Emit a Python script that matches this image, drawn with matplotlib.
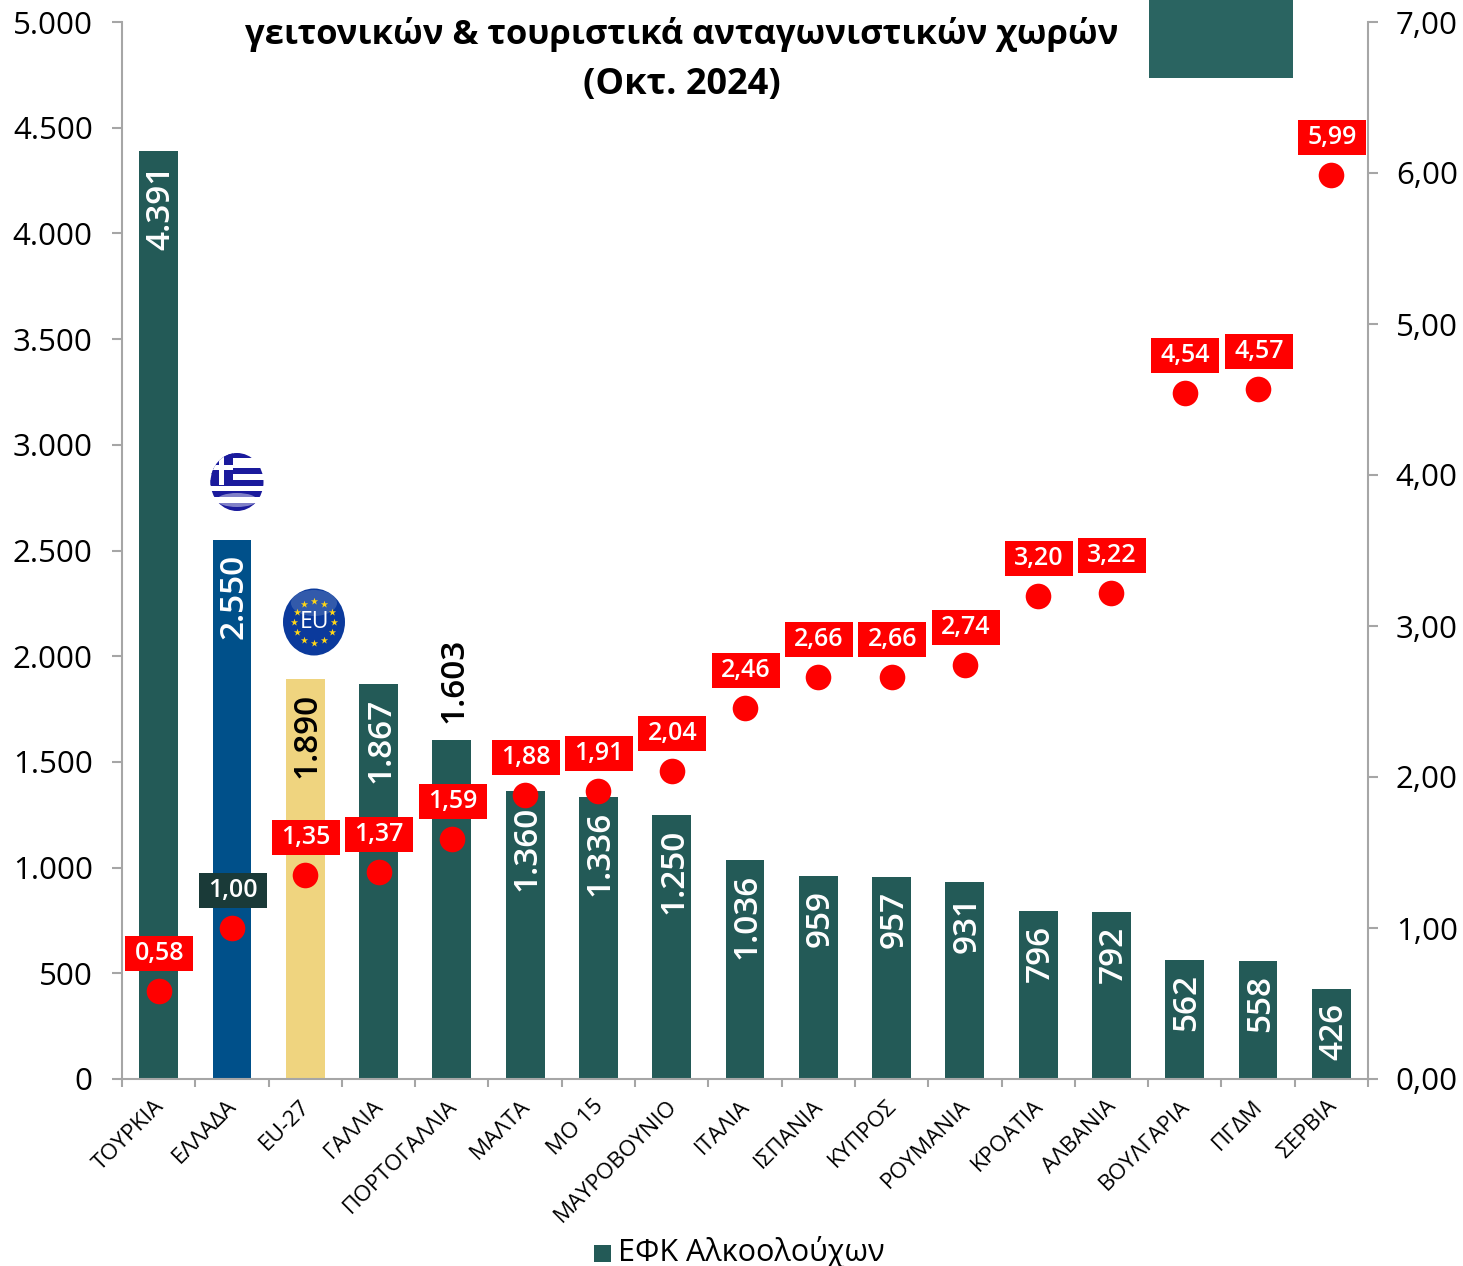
import matplotlib
matplotlib.use("Agg")
import matplotlib.pyplot as plt
from matplotlib.patches import Ellipse, Rectangle
from matplotlib.path import Path
from matplotlib.transforms import ScaledTranslation

plt.rcParams['font.family'] = ['Open Sans', 'DejaVu Sans']

categories = ["ΤΟΥΡΚΙΑ", "ΕΛΛΑΔΑ", "EU-27", "ΓΑΛΛΙΑ", "ΠΟΡΤΟΓΑΛΛΙΑ", "ΜΑΛΤΑ", "ΜΟ 15", "ΜΑΥΡΟΒΟΥΝΙΟ", "ΙΤΑΛΙΑ",
              "ΙΣΠΑΝΙΑ", "ΚΥΠΡΟΣ", "ΡΟΥΜΑΝΙΑ", "ΚΡΟΑΤΙΑ", "ΑΛΒΑΝΙΑ", "ΒΟΥΛΓΑΡΙΑ", "ΠΓΔΜ", "ΣΕΡΒΙΑ"]
excise = [4391, 2550, 1890, 1867, 1603, 1360, 1336, 1250, 1036, 959, 957, 931, 796, 792, 562, 558, 426]
price = [0.58, 1.00, 1.35, 1.37, 1.59, 1.88, 1.91, 2.04, 2.46, 2.66, 2.66, 2.74, 3.20, 3.22, 4.54, 4.57, 5.99]
left_ticks = [0, 500, 1000, 1500, 2000, 2500, 3000, 3500, 4000, 4500, 5000]
right_ticks = [0, 1, 2, 3, 4, 5, 6, 7]
title_lines = ["γειτονικών & τουριστικά ανταγωνιστικών χωρών", "(Οκτ. 2024)"]
legend_label = "ΕΦΚ Αλκοολούχων"

W, H = 1463, 1266
GREEN, BLUE, SAND, GREY, RED = "#235a57", "#00508a", "#efd47f", "#a6a6a6", "#ff0000"


def label_box(x0, y0, width, height, mutation_size):
    """Fixed-size label background (68 x 35 px), centred on the text."""
    cx, cy = x0 + width / 2, y0 + height / 2
    l, r, b, t = cx - 34, cx + 34, cy - 17.5, cy + 17.5
    return Path([(l, b), (r, b), (r, t), (l, t), (l, b)], closed=True)


fig = plt.figure(figsize=(W / 100, H / 100), dpi=100)
ax = fig.add_axes([122 / W, 1 - 1079 / H, (1368 - 122) / W, (1079 - 22) / H])
x = list(range(len(categories)))
colors = [GREEN] * len(x)
colors[1], colors[2] = BLUE, SAND
ax.bar(x, excise, width=0.53, color=colors, zorder=2)
ax.set_xlim(-0.5, len(x) - 0.5)
ax.set_ylim(0, 5000)
ax.set_yticks(left_ticks)
ax.set_yticklabels([f"{v:,}".replace(",", ".") for v in left_ticks], fontsize=22.5)
ax.set_xticks([i - 0.5 for i in range(len(x) + 1)])
ax.set_xticklabels([])
ax.set_xticks(x, minor=True)
ax.set_xticklabels(categories, minor=True, rotation=45, ha="right", va="top", rotation_mode="anchor", fontsize=16.2)
ax.tick_params(axis="x", which="minor", length=0, pad=12)
ax.tick_params(axis="x", which="major", length=6, width=1.5, color=GREY)
ax.tick_params(axis="y", length=7, width=1.5, color=GREY, pad=14)
shift = ScaledTranslation(-4 / 72, 0, fig.dpi_scale_trans)
for lab in ax.get_xticklabels(minor=True):
    lab.set_transform(lab.get_transform() + shift)
for s in ("top", "right"):
    ax.spines[s].set_visible(False)
for s in ("left", "bottom"):
    ax.spines[s].set_color(GREY)
    ax.spines[s].set_linewidth(1.5)

for i, v in enumerate(excise):
    text = f"{v:,}".replace(",", ".")
    if v == 1603:
        ax.annotate(text, (i, v), xytext=(1.5, 12), textcoords="offset points", rotation=90,
                    ha="center", va="bottom", fontsize=24, fontweight=600, color="black", zorder=3)
    else:
        ax.annotate(text, (i, v), xytext=(1.5, -10), textcoords="offset points", rotation=90,
                    ha="center", va="top", fontsize=24, fontweight=600,
                    color="black" if v == 1890 else "white", zorder=3)

ax2 = ax.twinx()
ax2.set_ylim(0, 7)
ax2.set_yticks(right_ticks)
ax2.set_yticklabels([f"{v:.2f}".replace(".", ",") for v in right_ticks], fontsize=22.5)
ax2.tick_params(axis="y", length=7.5, width=1.5, color=GREY, pad=12.5)
for s in ("top", "left", "bottom"):
    ax2.spines[s].set_visible(False)
ax2.spines["right"].set_color(GREY)
ax2.spines["right"].set_linewidth(1.5)
ax2.scatter(x, price, s=340, color=RED, zorder=4, linewidths=0)
for i, v in enumerate(price):
    face = "#1a3a38" if v == 1.00 else RED
    ax2.annotate(f"{v:.2f}".replace(".", ","), (i, v), xytext=(0.5, 27), textcoords="offset points",
                 ha="center", va="center", fontsize=18, fontweight=600, color="white", zorder=5,
                 bbox=dict(boxstyle=label_box, fc=face, ec="none"))

# overlay in pixel coordinates: title, legend key, cut-off rectangle, flags
ov = fig.add_axes([0, 0, 1, 1], zorder=10)
ov.set_xlim(0, W)
ov.set_ylim(H, 0)
ov.axis("off")
ov.patch.set_alpha(0)
ov.text(682, 34, title_lines[0], ha="center", va="center", fontsize=24.8, fontweight="bold")
ov.text(682, 85, title_lines[1], ha="center", va="center", fontsize=26, fontweight="bold")
ov.add_patch(Rectangle((1149, 0), 144, 78, fc="#2a6461", ec="none"))
ov.add_patch(Rectangle((594, 1245), 17, 17, fc=GREEN, ec="none"))
ov.text(618, 1252, legend_label, ha="left", va="center", fontsize=22)

# Greek flag badge
gr = Ellipse((237, 482), 53, 58, fc="white", ec="none")
ov.add_patch(gr)
for yy, hh in ((453, 5), (468, 6), (480, 6), (491, 6), (503, 8)):
    r = Rectangle((210, yy), 56, hh, fc="#1a1a9c", ec="none")
    ov.add_patch(r)
    r.set_clip_path(gr)
c = Rectangle((210, 453), 23, 32, fc="#1a1a9c", ec="none")
ov.add_patch(c)
c.set_clip_path(gr)
for rect in ((219, 453, 5, 32), (210, 465, 23, 5)):
    r = Rectangle(rect[:2], rect[2], rect[3], fc="white", ec="none")
    ov.add_patch(r)
    r.set_clip_path(gr)
ov.add_patch(Ellipse((237, 500), 40, 14, fc="white", ec="none", alpha=0.45))

# EU badge
ov.add_patch(Ellipse((314, 622), 62, 67, fc="#0b3a9c", ec="none"))
ov.add_patch(Ellipse((314, 603), 46, 26, fc="#6f8cc4", ec="none", alpha=0.4))
star_dx = [0, 10, 17.5, 20, 17.5, 10, 0, -10, -17.5, -20, -17.5, -10]
star_dy = [-21, -18, -10, 0, 10, 18, 21, 18, 10, 0, -10, -18]
ov.scatter([314 + d for d in star_dx], [622 + d for d in star_dy], marker="*", s=30, color="#ffd617", linewidths=0)
ov.text(314, 622, "EU", ha="center", va="center", fontsize=16.5, color="white")

fig.savefig("out.png", dpi=100)
